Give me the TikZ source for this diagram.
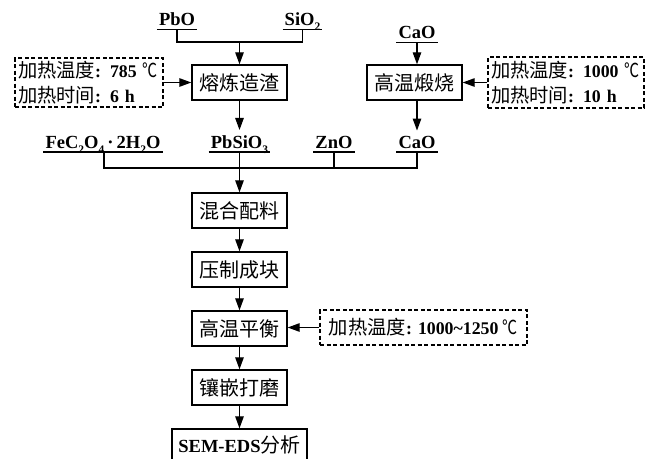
\documentclass[tikz,border=0pt]{standalone}
\usepackage{fontspec}
\usepackage{graphicx}
\setmainfont{Liberation Serif}
\newfontfamily\cjk{Noto Sans CJK SC}
\usetikzlibrary{arrows.meta,calc}
\newcommand{\lowtxt}[1]{\raisebox{-0.28em}{\fontsize{11.5}{11.5}\selectfont #1}}
\newcommand{\lat}{\rmfamily\bfseries\fontsize{18.5}{25}\selectfont}
\newcommand{\latd}{\rmfamily\bfseries\fontsize{17.8}{25}\selectfont}
\newcommand{\han}[1]{{\cjk\mdseries\fontsize{19.3}{25}\selectfont #1}}
\newcommand{\degc}{\scalebox{0.78}[1]{\han{℃}}}
\begin{document}
\begin{tikzpicture}[x=1pt,y=-1pt,
  box/.style={draw,line width=1.4pt,minimum width=95pt,minimum height=35pt,inner sep=0pt,font=\cjk\mdseries\fontsize{20}{20}\selectfont},
  dbox/.style={draw,line width=1.3pt,dash pattern=on 4pt off 2.5pt,inner xsep=3pt,inner ysep=0pt,align=left,font=\latd},
  lab/.style={inner xsep=2pt,inner ysep=1pt,font=\lat},
  uline/.style={line width=1.6pt},
  conn/.style={line width=1.2pt},
  arr/.style={line width=1.2pt,-{Triangle[length=12pt,width=8.5pt]}}]
\useasboundingbox (0,0) rectangle (645,458);

% boxes
\node[box] (b1) at (239.5,82.5) {熔炼造渣};
\node[box] (b2) at (414.5,82.5) {高温煅烧};
\node[box] (b3) at (239.5,210.5) {混合配料};
\node[box] (b4) at (239.5,269.5) {压制成块};
\node[box] (b5) at (239.5,328.5) {高温平衡};
\node[box] (b6) at (239.5,387.5) {镶嵌打磨};
\node[box,minimum width=135pt,minimum height=31pt] (b7) at (239.5,444.5) {{\lat SEM-EDS}分析};

% dashed condition boxes
\node[dbox,minimum width=148pt,minimum height=49pt,text width=142pt] (d1) at (89,82.5)
  {\mbox{\han{加热温度}: 785 \degc}\\\mbox{\han{加热时间}: 6 h}};
\node[dbox,minimum width=156pt,minimum height=51pt,text width=150pt] (d2) at (566,82.5)
  {\mbox{\han{加热温度}: 1000 \degc}\\\mbox{\han{加热时间}: 10 h}};
\node[dbox,minimum width=207pt,minimum height=35pt] (d3) at (423.5,327.5)
  {\han{加热温度}: 1000\textasciitilde 1250 \degc};

% labels
\node[lab,anchor=base] (pbo) at (177,25.5) {PbO};
\node[lab,anchor=base] (sio) at (302.5,25.5) {SiO\lowtxt{2}};
\node[lab,anchor=base] (cao1) at (417,38.5) {CaO};
\node[lab,anchor=base] (fe) at (103,148) {FeC\lowtxt{2}O\lowtxt{4}\,·\,2H\lowtxt{2}O};
\node[lab,anchor=base] (pbsio) at (239.5,148) {PbSiO\lowtxt{3}};
\node[lab,anchor=base] (zno) at (334,148) {ZnO};
\node[lab,anchor=base] (cao2) at (417,148) {CaO};

% underlines
\foreach \n in {pbo,sio,cao1,fe,pbsio,zno,cao2}{
  \draw[uline] ([yshift=-4pt]\n.base west) -- ([yshift=-4pt]\n.base east);
  \coordinate (\n-ul) at ([yshift=-4pt]\n.base);
}

% top joins
\coordinate (j1) at (239.5,42);
\draw[conn] (pbo-ul) |- (j1) -| (sio-ul);
\draw[arr] (j1) -- (b1.north);
\draw[arr] (cao1-ul) -- (cao1-ul |- b2.north);

\draw[arr,shorten >=4pt] (b1.south) -- (pbsio.north);
\draw[arr,shorten >=4pt] (b2.south -| cao2.base) -- (cao2.north);

% second bus
\coordinate (j2) at (239.5,168);
\draw[conn] ([xshift=1pt]fe-ul) |- (j2) -| (cao2-ul);
\draw[conn] (pbsio-ul) -- (j2);
\draw[conn] (zno-ul) -- (zno-ul |- j2);
\draw[arr] (j2) -- (b3.north);

% chain
\draw[arr] (b3) -- (b4);
\draw[arr] (b4) -- (b5);
\draw[arr] (b5) -- (b6);
\draw[arr] (b6) -- (b7);

% condition arrows
\draw[arr] (d1.east) -- (b1.west);
\draw[arr] (d2.west) -- (b2.east);
\draw[arr] (d3.west) -- (b5.east |- d3.west);
\end{tikzpicture}
\end{document}
